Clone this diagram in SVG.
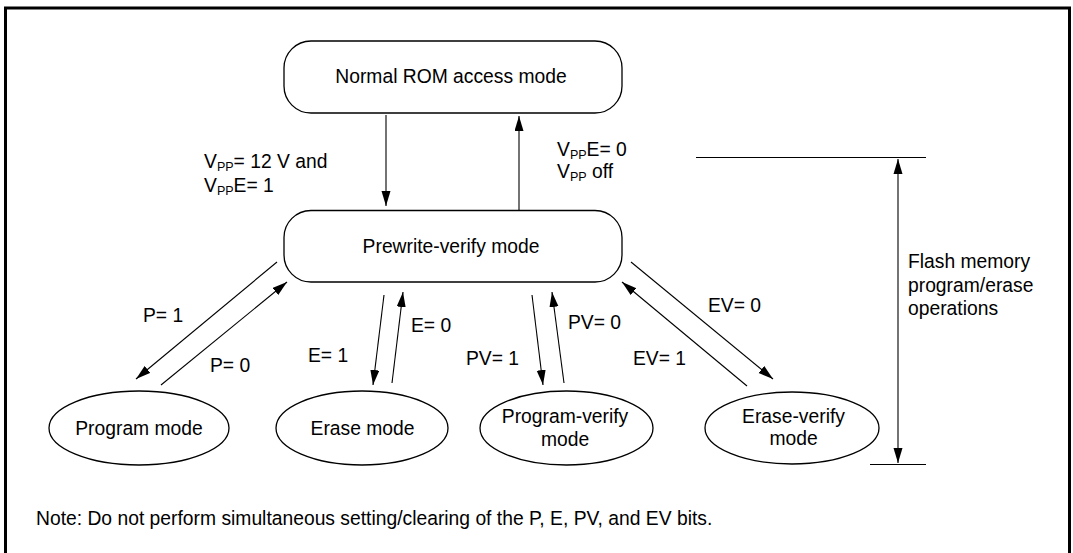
<svg xmlns="http://www.w3.org/2000/svg" width="1073" height="553" viewBox="0 0 1073 553">
<style>
text{font-family:"Liberation Sans",Arial,sans-serif;font-size:19.3px;fill:#000}
.c{text-anchor:middle}
.sub{font-size:12.5px}
.node{fill:#fff;stroke:#000;stroke-width:1.3}
.ln{stroke:#000;stroke-width:1.1;fill:none}
</style>
<defs>
<marker id="ah" markerUnits="userSpaceOnUse" markerWidth="16" markerHeight="10" refX="15" refY="4.5" orient="auto">
<path d="M0,0 L15,4.5 L0,9 z" fill="#000"/>
</marker>
<marker id="ahs" markerUnits="userSpaceOnUse" markerWidth="16" markerHeight="10" refX="0" refY="4.5" orient="auto">
<path d="M15,0 L0,4.5 L15,9 z" fill="#000"/>
</marker>
</defs>
<rect x="5.5" y="8" width="1064" height="600" fill="#fff" stroke="#000" stroke-width="3"/>

<g id="normal">
<rect class="node" x="284" y="41" width="338" height="72" rx="27"/>
<text class="c" x="451" y="83">Normal ROM access mode</text>
</g>
<g id="prewrite">
<rect class="node" x="284" y="210.5" width="338" height="71.5" rx="27"/>
<text class="c" x="451" y="253">Prewrite-verify mode</text>
</g>
<g id="program">
<ellipse class="node" cx="139" cy="428" rx="90" ry="37"/>
<text class="c" x="139" y="435">Program mode</text>
</g>
<g id="erase">
<ellipse class="node" cx="362" cy="428" rx="86" ry="37"/>
<text class="c" x="362.5" y="435">Erase mode</text>
</g>
<g id="programverify">
<ellipse class="node" cx="566.5" cy="428" rx="86.5" ry="37"/>
<text class="c" x="565" y="423">Program-verify</text>
<text class="c" x="565" y="446">mode</text>
</g>
<g id="eraseverify">
<ellipse class="node" cx="792" cy="428" rx="87" ry="36"/>
<text class="c" x="793.5" y="423">Erase-verify</text>
<text class="c" x="793.5" y="445">mode</text>
</g>

<g id="connectors">
<line class="ln" x1="386" y1="115" x2="386" y2="206" marker-end="url(#ah)"/>
<line class="ln" x1="519" y1="210" x2="519" y2="116" marker-end="url(#ah)"/>
<line class="ln" x1="277" y1="262" x2="136" y2="379" marker-end="url(#ah)"/>
<line class="ln" x1="161" y1="385" x2="287" y2="282" marker-end="url(#ah)"/>
<line class="ln" x1="384" y1="295" x2="373" y2="385" marker-end="url(#ah)"/>
<line class="ln" x1="392" y1="383" x2="403" y2="292" marker-end="url(#ah)"/>
<line class="ln" x1="532" y1="295" x2="543" y2="385" marker-end="url(#ah)"/>
<line class="ln" x1="564" y1="383" x2="552" y2="292" marker-end="url(#ah)"/>
<line class="ln" x1="747" y1="386" x2="622" y2="282" marker-end="url(#ah)"/>
<line class="ln" x1="631" y1="262" x2="773" y2="379" marker-end="url(#ah)"/>
<line class="ln" x1="696" y1="157.5" x2="926" y2="157.5"/>
<line class="ln" x1="870" y1="464.5" x2="926" y2="464.5"/>
<line class="ln" x1="898" y1="159" x2="898" y2="463" marker-start="url(#ahs)" marker-end="url(#ah)"/>
</g>

<g id="labels">
<text x="204" y="168">V<tspan class="sub" dy="3">PP</tspan><tspan dy="-3">= 12 V and</tspan></text>
<text x="204" y="192">V<tspan class="sub" dy="3">PP</tspan><tspan dy="-3">E= 1</tspan></text>
<text x="557" y="156">V<tspan class="sub" dy="3">PP</tspan><tspan dy="-3">E= 0</tspan></text>
<text x="557" y="178">V<tspan class="sub" dy="3">PP</tspan><tspan dy="-3"> off</tspan></text>
<text x="143" y="322">P= 1</text>
<text x="210" y="372">P= 0</text>
<text x="308" y="362">E= 1</text>
<text x="411" y="332">E= 0</text>
<text x="466" y="365">PV= 1</text>
<text x="568" y="329">PV= 0</text>
<text x="633" y="365">EV= 1</text>
<text x="708" y="312">EV= 0</text>
<text x="908" y="268">Flash memory</text>
<text x="908" y="292">program/erase</text>
<text x="908" y="315">operations</text>
<text x="36" y="525">Note: Do not perform simultaneous setting/clearing of the P, E, PV, and EV bits.</text>
</g>
</svg>
